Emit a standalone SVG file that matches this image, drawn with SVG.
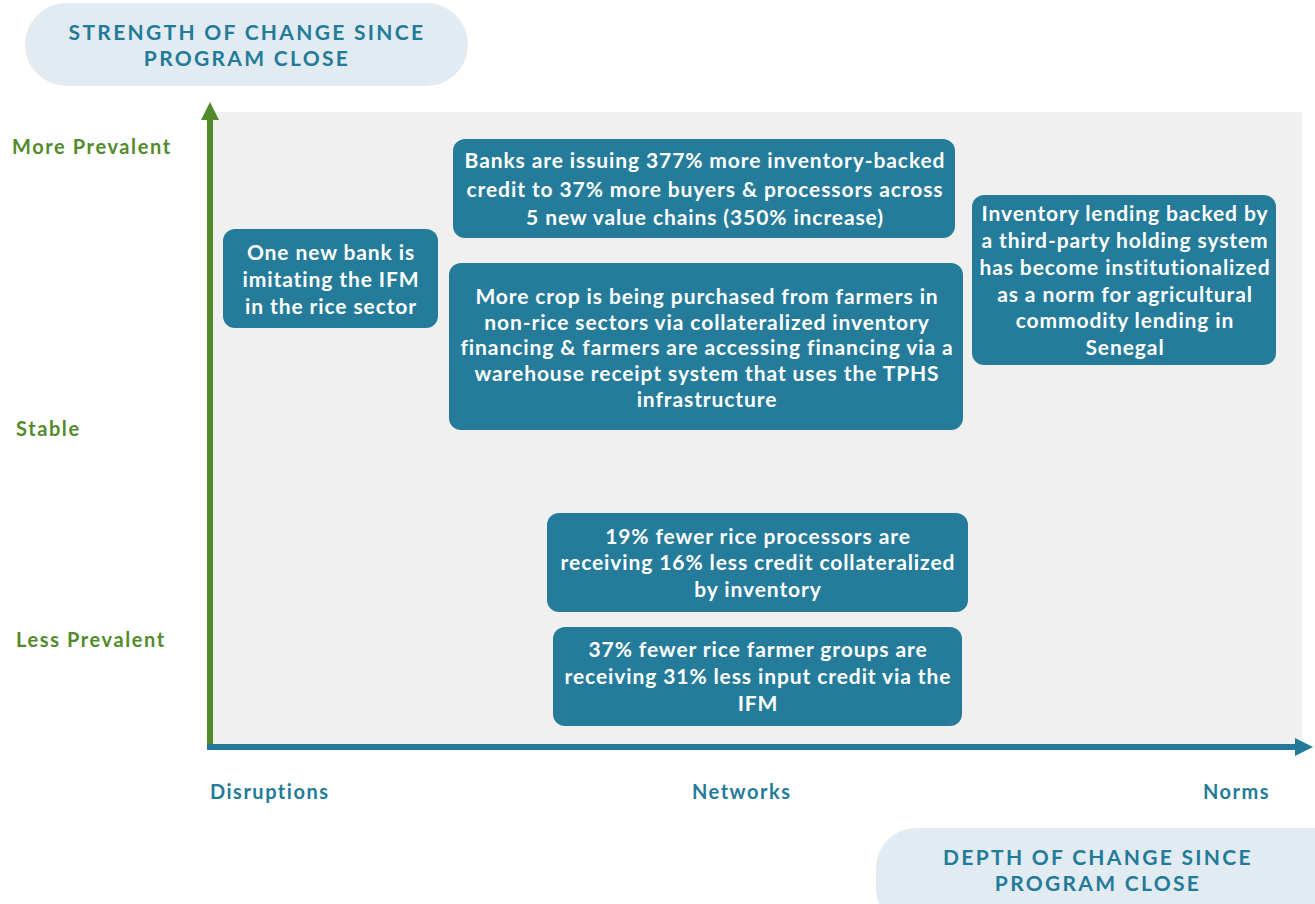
<svg xmlns="http://www.w3.org/2000/svg" width="1315" height="904" viewBox="0 0 1315 904">
<defs>
<style>
.box{fill:#247c9a;}
.bt{font-family:Lato,"Open Sans","Liberation Sans",sans-serif;font-weight:bold;font-size:21px;letter-spacing:0.9px;fill:#ffffff;text-anchor:middle;}
.pill{fill:#e1ebf1;}
.pt{font-family:Lato,"Open Sans","Liberation Sans",sans-serif;font-weight:bold;font-size:21px;letter-spacing:2.3px;fill:#237b99;text-anchor:middle;}
.gl{font-family:Lato,"Open Sans","Liberation Sans",sans-serif;font-weight:bold;font-size:20px;letter-spacing:1.6px;fill:#538a2c;}
.xl{font-family:Lato,"Open Sans","Liberation Sans",sans-serif;font-weight:bold;font-size:20px;letter-spacing:1.5px;fill:#237b99;}
</style>
</defs>
<rect width="1315" height="904" fill="#ffffff"/>
<rect x="213" y="112" width="1089" height="634" fill="#f0f0f0"/>

<g id="title-strength">
<rect class="pill" x="25" y="3" width="443" height="83" rx="41.5"/>
<text class="pt" x="247" y="40">STRENGTH OF CHANGE SINCE</text>
<text class="pt" x="247" y="66">PROGRAM CLOSE</text>
</g>
<g id="title-depth">
<rect class="pill" x="876" y="828" width="480" height="100" rx="40"/>
<text class="pt" x="1098" y="865">DEPTH OF CHANGE SINCE</text>
<text class="pt" x="1098" y="891">PROGRAM CLOSE</text>
</g>

<g id="axes">
<line x1="210" y1="748" x2="210" y2="118" stroke="#538a2c" stroke-width="6"/>
<polygon points="201,120 210,102 219,120" fill="#538a2c"/>
<line x1="207" y1="747" x2="1297" y2="747" stroke="#237b99" stroke-width="6"/>
<polygon points="1295,738 1313,747 1295,756" fill="#237b99"/>
</g>

<g id="y-labels">
<text class="gl" x="12" y="154">More Prevalent</text>
<text class="gl" x="16" y="436">Stable</text>
<text class="gl" x="16" y="647">Less Prevalent</text>
</g>
<g id="x-labels">
<text class="xl" x="210" y="799">Disruptions</text>
<text class="xl" x="692" y="799">Networks</text>
<text class="xl" x="1203" y="799">Norms</text>
</g>

<g id="node-banks">
<rect class="box" x="453" y="139" width="502" height="99" rx="12"/>
<text class="bt" x="705" y="168">Banks are issuing 377% more inventory-backed</text>
<text class="bt" x="705" y="197">credit to 37% more buyers &amp; processors across</text>
<text class="bt" x="705" y="225">5 new value chains (350% increase)</text>
</g>
<g id="node-newbank">
<rect class="box" x="223" y="229" width="215" height="99" rx="12"/>
<text class="bt" x="331" y="260">One new bank is</text>
<text class="bt" x="331" y="287">imitating the IFM</text>
<text class="bt" x="331" y="314">in the rice sector</text>
</g>
<g id="node-morecrop">
<rect class="box" x="449" y="263" width="514" height="167" rx="12"/>
<text class="bt" x="707" y="304">More crop is being purchased from farmers in</text>
<text class="bt" x="707" y="330">non-rice sectors via collateralized inventory</text>
<text class="bt" x="707" y="355">financing &amp; farmers are accessing financing via a</text>
<text class="bt" x="707" y="381">warehouse receipt system that uses the TPHS</text>
<text class="bt" x="707" y="407">infrastructure</text>
</g>
<g id="node-inventory">
<rect class="box" x="972" y="195" width="304" height="170" rx="12"/>
<text class="bt" x="1125" y="221">Inventory lending backed by</text>
<text class="bt" x="1125" y="248">a third-party holding system</text>
<text class="bt" x="1125" y="275">has become institutionalized</text>
<text class="bt" x="1125" y="302">as a norm for agricultural</text>
<text class="bt" x="1125" y="328">commodity lending in</text>
<text class="bt" x="1125" y="355">Senegal</text>
</g>
<g id="node-processors">
<rect class="box" x="547" y="513" width="421" height="99" rx="12"/>
<text class="bt" x="758" y="544">19% fewer rice processors are</text>
<text class="bt" x="758" y="570">receiving 16% less credit collateralized</text>
<text class="bt" x="758" y="597">by inventory</text>
</g>
<g id="node-farmergroups">
<rect class="box" x="553" y="627" width="409" height="99" rx="12"/>
<text class="bt" x="758" y="657">37% fewer rice farmer groups are</text>
<text class="bt" x="758" y="684">receiving 31% less input credit via the</text>
<text class="bt" x="758" y="711">IFM</text>
</g>
</svg>
